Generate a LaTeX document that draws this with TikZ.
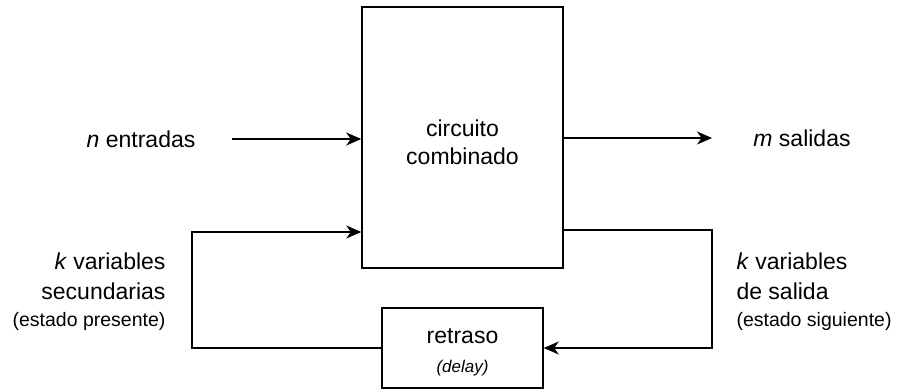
\documentclass[tikz,border=0pt]{standalone}
\usepackage{fontspec}
\setmainfont{Liberation Sans}
\usetikzlibrary{arrows.meta}
\begin{document}
\begin{tikzpicture}[x=1pt,y=-1pt,
  box/.style={draw, line width=1.5pt, inner sep=0pt},
  boxtext/.style={align=center, inner sep=0pt, font=\fontsize{23}{28}\selectfont},
  wire/.style={line width=1.5pt},
  arr/.style={wire, -{Stealth[length=15pt,width=13pt,inset=4.5pt]}},
  lbl/.style={font=\fontsize{23}{30}\selectfont}
]
\useasboundingbox (0,0) rectangle (897,390);

% blocks
\node[box, minimum width=201pt, minimum height=261pt] (cc) at (462.5,137.5) {};
\node[boxtext] (cctext) at (462.5,142) {circuito\\[0pt]combinado};
\node[box, minimum width=161pt, minimum height=80pt] (rt) at (462.5,348) {};
\node[boxtext] (rttext) at (462.5,352)
  {retraso\\[1pt]{\fontsize{17}{20}\selectfont\itshape (delay)}};

% free ends of the connectors
\coordinate (inS) at (232,139);
\coordinate (outE) at (712,138);
\coordinate (fbL) at (192,232);
\coordinate (fbR) at (712,230);

% labels
\node[lbl] (nin) at (141,139) {\textit{n} entradas};
\node[lbl] (mout) at (802,138) {\textit{m} salidas};
\node[lbl, align=right, anchor=east] (kin) at (169,292)
  {\textit{k} variables\\secundarias\\[-3pt]{\fontsize{19.5}{24}\selectfont (estado presente)}};
\node[lbl, align=left, anchor=west] (kout) at (733,292)
  {\textit{k} variables\\de salida\\[-3pt]{\fontsize{19.5}{24}\selectfont (estado siguiente)}};

% connectors
\draw[arr] (inS) -- (inS -| cc.west);
\draw[arr] (outE -| cc.east) -- (outE);
\draw[arr] (rt.west) -| (fbL) -- (fbL -| cc.west);
\draw[arr] (fbR -| cc.east) -- (fbR) |- (rt.east);
\end{tikzpicture}
\end{document}
